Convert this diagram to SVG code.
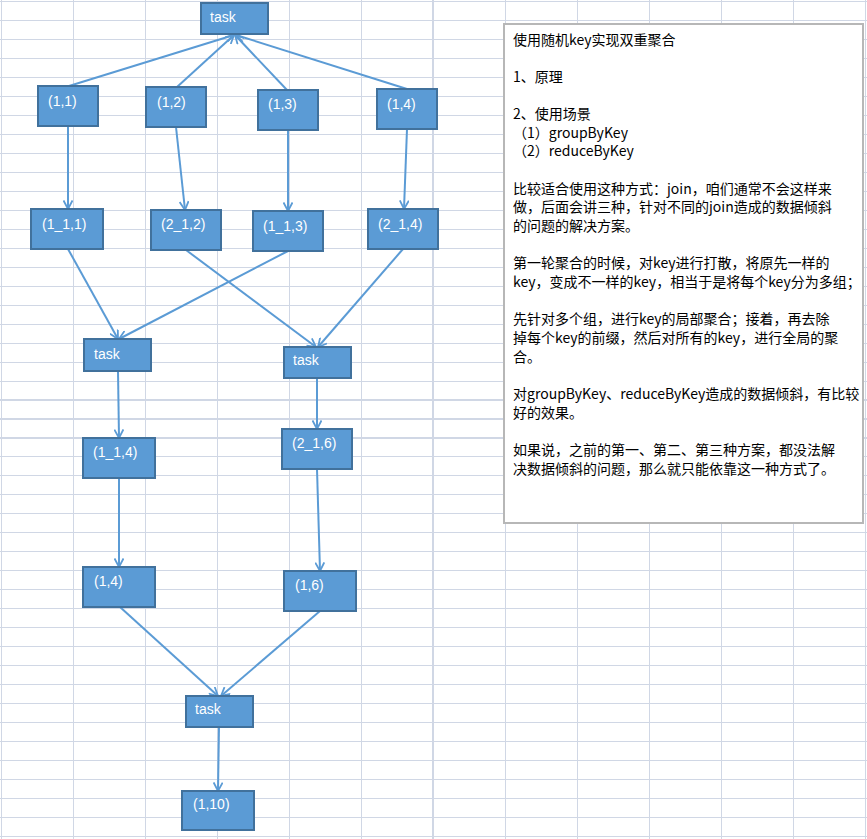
<svg xmlns="http://www.w3.org/2000/svg" width="867" height="839" viewBox="0 0 867 839">
<defs>
<style>
.g{stroke:#d0d7e5;stroke-width:1;fill:none}
.gt{stroke:#d0d7e5;stroke-width:2;fill:none}
.n{fill:#5b9bd5;stroke:#41719c;stroke-width:2}
.nt{fill:#ffffff;font-family:"Liberation Sans","Noto Sans",sans-serif;font-size:14px}
.c{stroke:#5b9bd5;stroke-width:2;fill:none;marker-end:url(#a)}
.t{fill:#000000;font-family:"Noto Sans CJK SC","Noto Sans",sans-serif;font-size:14px}
</style>
<marker id="a" viewBox="0 0 10 10" refX="9.5" refY="5" markerWidth="10" markerHeight="10" markerUnits="userSpaceOnUse" orient="auto">
<path d="M1,0.5 L9.5,5 L1,9.5" fill="none" stroke="#5b9bd5" stroke-width="1.8"/>
</marker>
</defs>
<rect x="0" y="0" width="867" height="839" fill="#ffffff"/>
<g id="grid">
<path class="g" d="M1.5,0V839M73.5,0V839M145.5,0V839M217.5,0V839M289.5,0V839M361.5,0V839M505.5,0V839M577.5,0V839M649.5,0V839M721.5,0V839M793.5,0V839M865.5,0V839"/>
<path class="gt" d="M433,0V839"/>
<path class="g" d="M0,1.5H867M0,20.5H867M0,39.5H867M0,58.5H867M0,77.5H867M0,96.5H867M0,115.5H867M0,134.5H867M0,153.5H867M0,172.5H867M0,191.5H867M0,210.5H867M0,229.5H867M0,248.5H867M0,267.5H867M0,286.5H867M0,305.5H867M0,324.5H867M0,343.5H867M0,362.5H867M0,381.5H867M0,456.5H867M0,475.5H867M0,494.5H867M0,513.5H867M0,532.5H867M0,551.5H867M0,570.5H867M0,589.5H867M0,608.5H867M0,627.5H867M0,646.5H867M0,665.5H867M0,684.5H867M0,703.5H867M0,722.5H867M0,741.5H867M0,760.5H867M0,779.5H867M0,798.5H867M0,817.5H867M0,836.5H867"/>
<path class="gt" d="M0,400H867M0,419H867M0,438H867"/>
</g>
<g id="connectors">
<line class="c" x1="69" y1="86" x2="234" y2="35"/>
<line class="c" x1="177" y1="87" x2="234" y2="35"/>
<line class="c" x1="287" y1="90" x2="235" y2="35"/>
<line class="c" x1="407" y1="89" x2="236" y2="35"/>
<line class="c" x1="68" y1="126" x2="68" y2="209"/>
<line class="c" x1="176" y1="127" x2="185" y2="210"/>
<line class="c" x1="288" y1="130" x2="288" y2="211"/>
<line class="c" x1="407" y1="129" x2="404" y2="209"/>
<line class="c" x1="68" y1="249" x2="118" y2="339"/>
<line class="c" x1="288" y1="251" x2="119" y2="339"/>
<line class="c" x1="186" y1="250" x2="316" y2="347"/>
<line class="c" x1="403" y1="249" x2="318" y2="347"/>
<line class="c" x1="118" y1="371" x2="119" y2="438"/>
<line class="c" x1="317" y1="378" x2="317" y2="429"/>
<line class="c" x1="119" y1="478" x2="119" y2="567"/>
<line class="c" x1="317" y1="469" x2="320" y2="571"/>
<line class="c" x1="120" y1="607" x2="218" y2="696"/>
<line class="c" x1="320" y1="611" x2="221" y2="696"/>
<line class="c" x1="219" y1="727" x2="218" y2="791"/>
</g>
<g id="task_top"><rect class="n" x="201" y="3" width="67" height="31"/><text class="nt" x="210" y="22">task</text></g>
<g id="n_1_1"><rect class="n" x="38" y="86" width="60" height="40"/><text class="nt" x="48" y="106">(1,1)</text></g>
<g id="n_1_2"><rect class="n" x="146" y="87" width="60" height="40"/><text class="nt" x="157" y="107">(1,2)</text></g>
<g id="n_1_3"><rect class="n" x="258" y="90" width="60" height="40"/><text class="nt" x="268" y="109">(1,3)</text></g>
<g id="n_1_4"><rect class="n" x="377" y="89" width="60" height="40"/><text class="nt" x="387" y="109">(1,4)</text></g>
<g id="n_1_1_1"><rect class="n" x="31" y="209" width="72" height="40"/><text class="nt" x="42" y="229">(1_1,1)</text></g>
<g id="n_2_1_2"><rect class="n" x="151" y="210" width="70" height="40"/><text class="nt" x="161" y="229">(2_1,2)</text></g>
<g id="n_1_1_3"><rect class="n" x="253" y="211" width="70" height="40"/><text class="nt" x="263" y="231">(1_1,3)</text></g>
<g id="n_2_1_4"><rect class="n" x="368" y="209" width="70" height="40"/><text class="nt" x="378" y="229">(2_1,4)</text></g>
<g id="task_left"><rect class="n" x="84" y="339" width="67" height="32"/><text class="nt" x="94" y="359">task</text></g>
<g id="task_right"><rect class="n" x="284" y="347" width="67" height="31"/><text class="nt" x="293" y="365">task</text></g>
<g id="n_1_1_4"><rect class="n" x="83" y="438" width="72" height="40"/><text class="nt" x="93" y="457">(1_1,4)</text></g>
<g id="n_2_1_6"><rect class="n" x="282" y="429" width="70" height="40"/><text class="nt" x="292" y="448">(2_1,6)</text></g>
<g id="n_1_4b"><rect class="n" x="83" y="567" width="72" height="40"/><text class="nt" x="94" y="586">(1,4)</text></g>
<g id="n_1_6"><rect class="n" x="284" y="571" width="72" height="40"/><text class="nt" x="295" y="590">(1,6)</text></g>
<g id="task_bottom"><rect class="n" x="186" y="696" width="67" height="31"/><text class="nt" x="195" y="714">task</text></g>
<g id="n_1_10"><rect class="n" x="182" y="791" width="72" height="39"/><text class="nt" x="193" y="809">(1,10)</text></g>
<g id="note">
<rect x="504" y="24" width="359" height="499" fill="#ffffff" stroke="#b7b7b7" stroke-width="2"/>
<text class="t" x="513" y="44.5">使用随机key实现双重聚合</text>
<text class="t" x="513" y="81.8">1、原理</text>
<text class="t" x="513" y="119.1">2、使用场景</text>
<text class="t" x="513" y="137.8">（1）groupByKey</text>
<text class="t" x="513" y="156.4">（2）reduceByKey</text>
<text class="t" x="513" y="193.7">比较适合使用这种方式：join，咱们通常不会这样来</text>
<text class="t" x="513" y="212.4">做，后面会讲三种，针对不同的join造成的数据倾斜</text>
<text class="t" x="513" y="231">的问题的解决方案。</text>
<text class="t" x="513" y="268.3">第一轮聚合的时候，对key进行打散，将原先一样的</text>
<text class="t" x="513" y="287">key，变成不一样的key，相当于是将每个key分为多组；</text>
<text class="t" x="513" y="324.3">先针对多个组，进行key的局部聚合；接着，再去除</text>
<text class="t" x="513" y="342.9">掉每个key的前缀，然后对所有的key，进行全局的聚</text>
<text class="t" x="513" y="361.6">合。</text>
<text class="t" x="513" y="398.9">对groupByKey、reduceByKey造成的数据倾斜，有比较</text>
<text class="t" x="513" y="417.5">好的效果。</text>
<text class="t" x="513" y="454.8">如果说，之前的第一、第二、第三种方案，都没法解</text>
<text class="t" x="513" y="473.5">决数据倾斜的问题，那么就只能依靠这一种方式了。</text>
</g>
</svg>
